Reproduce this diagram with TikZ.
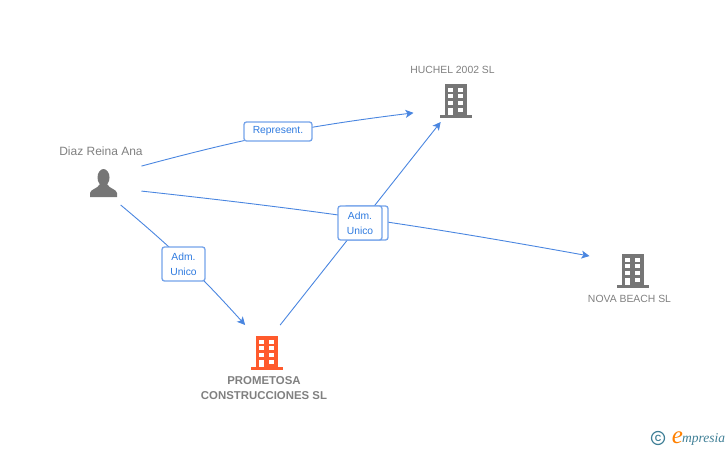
\documentclass[tikz,border=0pt]{standalone}
\usepackage{fontspec}
\setmainfont{Liberation Sans}
\newfontfamily\logofont{Liberation Serif}
\usetikzlibrary{positioning, arrows.meta}
\definecolor{linkblue}{HTML}{4A86E0}
\definecolor{tagblue}{HTML}{74A3EA}
\definecolor{tagtext}{HTML}{2F7BE0}
\definecolor{icongray}{HTML}{767676}
\definecolor{textgray}{HTML}{808080}
\definecolor{mainorange}{HTML}{FF5A2C}
\definecolor{logoteal}{HTML}{3F7F96}
\tikzset{
>={Stealth[length=8pt, width=8pt, inset=2pt]}, % filled arrow heads
link/.style={->, linkblue, line width=0.9pt},
anchorbox/.style={rectangle, inner sep=0pt, outer sep=0pt, minimum width=#1}, % invisible box round an icon
anchorbox/.default=84pt,
tag/.style={draw=tagblue, line width=1.3pt, rounded corners=2.5pt, fill=white, text=tagtext, inner sep=0pt, font=\fontsize{10.3}{15}\selectfont, align=center},
caption/.style={text=textgray, inner sep=0pt, font=\fontsize{10.4}{15}\selectfont, align=center},
pics/tower/.style={code={
    \fill[#1] (-11,-16) rectangle (11,15);
    \fill[#1] (-16,15) rectangle (16,18);
    \foreach \row in {-12,-6,1}{
        \fill[white] (-8,\row) rectangle (-3,\row+4);
        \fill[white] (2,\row) rectangle (7,\row+4);
    }
    \fill[white] (-8,8) rectangle (-3,15);
    \fill[white] (2,8) rectangle (7,12);
}},
pics/person/.style={code={
    \fill[icongray] (0,-5.5) ellipse (6 and 8.5);
    \fill[icongray] (-13.5,14) -- (-13.5,10) .. controls (-13,6) and (-6,6) .. (-3.5,1)
        -- (3.5,1) .. controls (6,6) and (13,6) .. (13.5,10) -- (13.5,14) -- cycle;
}},
}
\begin{document}
\begin{tikzpicture}[x=1pt, y=-1pt]
    \useasboundingbox (0,0) rectangle (728,450);
    \node[anchorbox=76pt, minimum height=44pt] (diaz) at (103.5,183) {};
    \node[anchorbox=84pt, minimum height=44pt] (huchel) at (455.5,100) {};
    \node[anchorbox=86pt, minimum height=44pt] (nova) at (632.5,270) {};
    \node[anchorbox=44pt, minimum height=54pt] (prometosa) at (267,352) {};
    \pic at (diaz) {person};
    \pic at (huchel) {tower=icongray};
    \pic at (nova) {tower=icongray};
    \pic at (prometosa) {tower=mainorange};
    \node[caption, font=\fontsize{12}{15}\selectfont] (diazname) at (101,151) {Diaz Reina Ana};
    \node[caption] (huchelname) at (452.5,70) {HUCHEL 2002 SL};
    \node[caption] (novaname) at (629.5,299) {NOVA BEACH SL};
    \node[caption, font=\fontsize{11.4}{15}\selectfont\bfseries] (prometosaname) at (264,388) {PROMETOSA\\CONSTRUCCIONES SL};
    \draw[link] (diaz.24) to[bend left=4] (huchel.197);
    \draw[link] (diaz.-12) to[bend left=2] (nova.162);
    \draw[link] (diaz.-52) to[bend left=4] (prometosa.129);
    \draw[link] (prometosa.64) -- (huchel.236);
    \node[tag, minimum width=68pt, minimum height=19pt] (represent) at (278,131.5) {Represent.};
    \node[tag, minimum width=43pt, minimum height=34pt] (admdiaz) at (183.5,264) {Adm.\\Unico};
    \node[tag, minimum width=44pt, minimum height=34pt] (admback) at (366,223) {};
    \node[tag, minimum width=44pt, minimum height=34pt] (admfront) at (360,223) {Adm.\\Unico};
    % logo
    \node[circle, draw=logoteal, line width=1.2pt, inner sep=0pt, minimum size=13pt, text=logoteal, font=\bfseries\fontsize{9}{9}\selectfont] (copyr) at (658,438) {C};
    \node[inner sep=0pt, text=orange, font=\logofont\itshape\fontsize{25}{25}\selectfont] (logoe) at (677.5,438) {e};
    \node[inner sep=0pt, text=logoteal, font=\logofont\itshape\fontsize{13.5}{13.5}\selectfont, anchor=west] (logoword) at (682,439) {mpresia};
\end{tikzpicture}
\end{document}
